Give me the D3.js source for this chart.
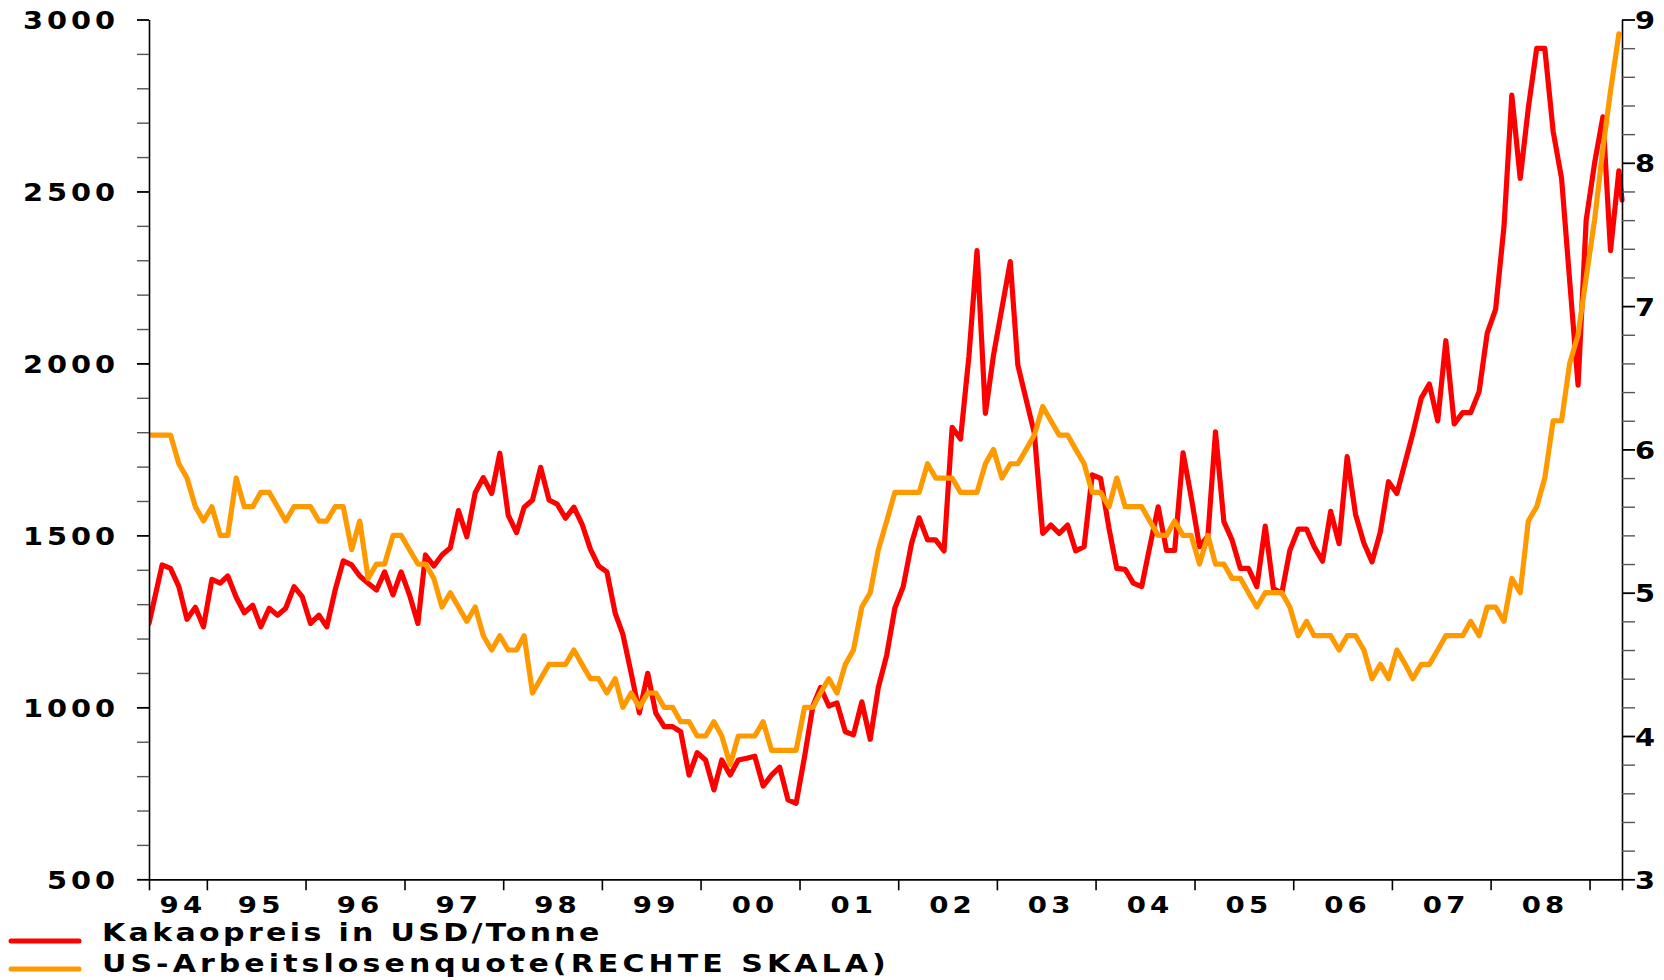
<!DOCTYPE html>
<html>
<head>
<meta charset="utf-8">
<script src="https://cdn.jsdelivr.net/npm/d3@7"></script>
<style>
  body { margin: 0; background: #ffffff; }
  svg { display: block; }
  text { font-family: "DejaVu Sans", sans-serif; font-weight: bold; fill: #000; }
</style>
</head>
<body>
<svg id="chart" width="1664" height="980"></svg>
<script>
// ---------------- data ----------------
const firstMonth = [1994, 6];   // June 1994, monthly observations
const lastMonth = [2009, 5];    // May 2009

// Cocoa price, USD per tonne (left scale), Jun 1994 - May 2009
const cocoaPrice = [
  1244,1414,1404,1351,1256,1291,1234,
  1372,1361,1382,1320,1275,1297,1234,1288,1268,1288,1351,1322,
  1244,1268,1234,1341,1426,1414,1382,1361,1341,1394,1327,1394,
  1327,1244,1443,1411,1443,1464,1572,1496,1624,1668,1622,1739,
  1559,1508,1582,1603,1698,1603,1591,1550,1582,1533,1460,1411,
  1394,1273,1213,1099,984,1099,983,944,944,929,803,868,
  847,760,847,803,847,852,858,771,803,826,731,721,
  856,1004,1058,1004,1013,929,920,1016,907,1058,1152,1288,
  1351,1477,1551,1487,1487,1455,1814,1780,2020,2328,1855,2024,
  2160,2296,1995,1894,1797,1506,1530,1506,1530,1455,1467,1676,
  1666,1521,1404,1401,1361,1351,1467,1583,1456,1456,1740,1612,
  1467,1498,1801,1540,1487,1404,1404,1351,1527,1346,1331,1456,
  1518,1518,1467,1425,1570,1476,1729,1561,1477,1423,1511,1656,
  1622,1714,1797,1899,1940,1833,2066,1824,1857,1857,1918,2088,
  2157,2398,2780,2538,2742,2916,2916,2674,2538,2240,1937,2417,
  2582,2717,2328,2560,2475
];

// US unemployment rate, % (right scale), Jun 1994 - Apr 2009
const unemploymentRate = [
  6.1,6.1,6.1,5.9,5.8,5.6,5.5,
  5.6,5.4,5.4,5.8,5.6,5.6,5.7,5.7,5.6,5.5,5.6,5.6,
  5.6,5.5,5.5,5.6,5.6,5.3,5.5,5.1,5.2,5.2,5.4,5.4,
  5.3,5.2,5.2,5.1,4.9,5.0,4.9,4.8,4.9,4.7,4.6,4.7,
  4.6,4.6,4.7,4.3,4.4,4.5,4.5,4.5,4.6,4.5,4.4,4.4,
  4.3,4.4,4.2,4.3,4.2,4.3,4.3,4.2,4.2,4.1,4.1,4.0,
  4.0,4.1,4.0,3.8,4.0,4.0,4.0,4.1,3.9,3.9,3.9,3.9,
  4.2,4.2,4.3,4.4,4.3,4.5,4.6,4.9,5.0,5.3,5.5,5.7,
  5.7,5.7,5.7,5.9,5.8,5.8,5.8,5.7,5.7,5.7,5.9,6.0,
  5.8,5.9,5.9,6.0,6.1,6.3,6.2,6.1,6.1,6.0,5.9,5.7,
  5.7,5.6,5.8,5.6,5.6,5.6,5.5,5.4,5.4,5.5,5.4,5.4,
  5.2,5.4,5.2,5.2,5.1,5.1,5.0,4.9,5.0,5.0,5.0,4.9,
  4.7,4.8,4.7,4.7,4.7,4.6,4.7,4.7,4.6,4.4,4.5,4.4,
  4.6,4.5,4.4,4.5,4.5,4.6,4.7,4.7,4.7,4.8,4.7,4.9,
  4.9,4.8,5.1,5.0,5.5,5.6,5.8,6.2,6.2,6.6,6.8,7.2,
  7.6,8.1,8.5,8.9
];

const leftDomain = [500, 3000];
const leftMajorTicks = [500, 1000, 1500, 2000, 2500, 3000];
const leftMinorStep = 100;
const rightDomain = [3, 9];
const rightMajorTicks = [3, 4, 5, 6, 7, 8, 9];
const rightMinorStep = 0.2;
const yearLabels = ["94","95","96","97","98","99","00","01","02","03","04","05","06","07","08"];
const legendLabels = ["Kakaopreis in USD/Tonne", "US-Arbeitslosenquote(RECHTE SKALA)"];
const seriesColors = ["#ff0000", "#ff9900"];

// ---------------- layout ----------------
const plot = { left: 149, right: 1622, top: 19.5, bottom: 879.3 };
const SX = 1.2;          // horizontal stretch of the lettering
const interiorShift = 5; // interior observations sit slightly right of their month start

const svg = d3.select("#chart");

const t0 = new Date(firstMonth[0], firstMonth[1] - 1, 1);
const t1 = new Date(lastMonth[0], lastMonth[1] - 1, 1);
const x = d3.scaleTime().domain([t0, t1]).range([plot.left, plot.right]);
// scale used for the observations: same time axis, interior months nudged right
const tA = d3.timeMonth.offset(t0, 1), tB = d3.timeMonth.offset(t1, -1);
const xData = d3.scaleTime()
  .domain([t0, tA, tB, t1])
  .range([x(t0), x(tA) + interiorShift, x(tB) + interiorShift, x(t1)]);
const yL = d3.scaleLinear().domain(leftDomain).range([plot.bottom, plot.top]);
const yR = d3.scaleLinear().domain(rightDomain).range([plot.bottom, plot.top]);

const monthDate = i => d3.timeMonth.offset(t0, i);

function label(parent, px, py, str, anchor, size, ls) {
  const g = parent.append("g").attr("transform", `translate(${px},${py}) scale(${SX},1)`);
  g.append("text")
    .attr("text-anchor", anchor)
    .attr("font-size", size)
    .attr("letter-spacing", ls)
    .text(str);
  return g;
}

// ---------------- series ----------------
const line = (yScale) => d3.line()
  .x((d, i) => xData(monthDate(i)))
  .y(d => yScale(d));

svg.append("clipPath").attr("id", "plotclip")
  .append("rect").attr("x", plot.left).attr("y", 0)
  .attr("width", plot.right - plot.left + 3).attr("height", plot.bottom);

const lines = svg.append("g").attr("clip-path", "url(#plotclip)");
[[cocoaPrice, yL], [unemploymentRate, yR]].forEach(([series, ys], i) => {
  lines.append("path")
    .datum(series)
    .attr("d", line(ys))
    .attr("fill", "none")
    .attr("stroke", seriesColors[i])
    .attr("stroke-width", 5.2)
    .attr("stroke-linejoin", "round")
    .attr("stroke-linecap", "round");
});

// ---------------- axes ----------------
const isWhole = d => Math.abs(d - Math.round(d)) < 1e-6;

const leftTickVals = d3.range(leftDomain[0], leftDomain[1] + 1, leftMinorStep);
const gL = svg.append("g").attr("transform", `translate(${plot.left},0)`)
  .call(d3.axisLeft(yL).tickValues(leftTickVals).tickSize(12).tickSizeOuter(0).tickFormat(""));
gL.selectAll(".tick line")
  .attr("stroke", d => leftMajorTicks.includes(d) ? "#000" : "#555")
  .attr("stroke-width", d => leftMajorTicks.includes(d) ? 1.8 : 1.4);
gL.select(".domain").attr("stroke", "#000").attr("stroke-width", 1.6);

const rightTickVals = d3.range(0, Math.round((rightDomain[1] - rightDomain[0]) / rightMinorStep) + 1)
  .map(i => +(rightDomain[0] + i * rightMinorStep).toFixed(1));
const gR = svg.append("g").attr("transform", `translate(${plot.right},0)`)
  .call(d3.axisRight(yR).tickValues(rightTickVals).tickSize(13).tickSizeOuter(0).tickFormat(""));
gR.selectAll(".tick line")
  .attr("stroke", d => isWhole(d) ? "#000" : "#555")
  .attr("stroke-width", d => isWhole(d) ? 1.8 : 1.4);
gR.select(".domain").attr("stroke", "#000").attr("stroke-width", 1.6);

const yearStarts = d3.timeYear.range(d3.timeYear.ceil(t0), t1);
const xTickVals = [t0, ...yearStarts, t1];
const gX = svg.append("g").attr("transform", `translate(0,${plot.bottom})`)
  .call(d3.axisBottom(x).tickValues(xTickVals).tickSize(11).tickSizeOuter(0).tickFormat(""));
gX.selectAll(".tick line").attr("stroke", "#000").attr("stroke-width", 1.6);
gX.select(".domain").attr("stroke", "#000").attr("stroke-width", 1.8);

// ---------------- labels ----------------
const labels = svg.append("g");
leftMajorTicks.forEach(v => {
  label(labels, 119, yL(v) + 9.5, String(v), "end", 24, 3.3);
});
rightMajorTicks.forEach(v => {
  label(labels, 1635, yR(v) + 9.5, String(v), "start", 24, 3.3);
});
yearLabels.forEach((s, i) => {
  const yr = firstMonth[0] + i;
  const a = Math.max(x(new Date(yr, 0, 1)), plot.left);
  const b = x(new Date(yr + 1, 0, 1));
  label(labels, (a + b) / 2 + 5, 913, s, "middle", 23, 3.5);
});

// ---------------- legend ----------------
const legend = svg.append("g");
const legendRows = [941, 969];
const legendSpacing = [2.8, 3.4];
legendLabels.forEach((s, i) => {
  legend.append("line")
    .attr("x1", 11).attr("x2", 79)
    .attr("y1", legendRows[i]).attr("y2", legendRows[i])
    .attr("stroke", seriesColors[i]).attr("stroke-width", 5)
    .attr("stroke-linecap", "round");
  label(legend, 102, legendRows[i] - 0.5 + (i === 1 ? 3 : 0), s, "start", 25, legendSpacing[i]);
});
</script>
</body>
</html>
